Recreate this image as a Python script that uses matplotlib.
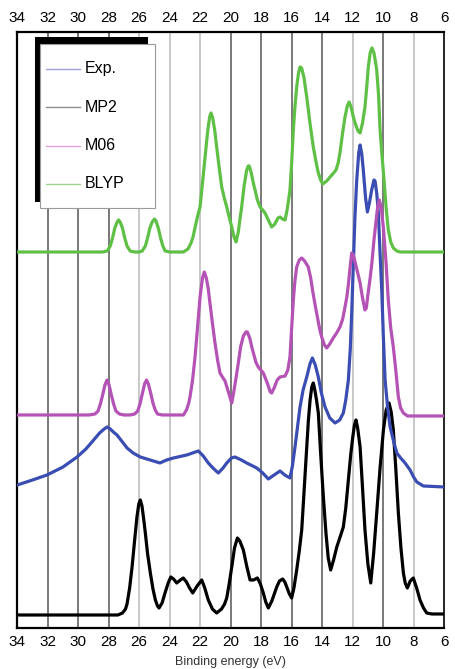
import matplotlib.pyplot as plt
from matplotlib.patches import Rectangle

plt.rcParams['font.family'] = ['Liberation Sans', 'DejaVu Sans']

# binding energy (eV) / intensity (a.u., curves already stacked)
blyp_e = [34.0, 28.4, 28.1, 27.9, 27.75, 27.6, 27.45, 27.35, 27.25, 27.1, 26.95, 26.8, 26.6,
          26.3, 26.0, 25.8, 25.6, 25.45, 25.3, 25.15, 25.0, 24.9, 24.75, 24.6, 24.45, 24.3,
          24.0, 23.1, 22.8, 22.6, 22.47, 22.3, 22.15, 22.01, 21.85, 21.68, 21.5, 21.38, 21.29,
          21.18, 21.05, 20.92, 20.75, 20.59, 20.42, 20.26, 20.1, 19.93, 19.78, 19.65, 19.5,
          19.38, 19.28, 19.12, 18.95, 18.85, 18.78, 18.65, 18.5, 18.4, 18.25, 18.07, 17.9,
          17.75, 17.5, 17.31, 17.1, 16.9, 16.76, 16.6, 16.43, 16.3, 16.2, 16.11, 16.0, 15.89,
          15.78, 15.67, 15.55, 15.45, 15.35, 15.2, 15.01, 14.8, 14.58, 14.4, 14.25, 14.1,
          13.96, 13.7, 13.48, 13.25, 13.09, 12.95, 12.83, 12.65, 12.5, 12.35, 12.23, 12.1,
          11.97, 11.84, 11.65, 11.51, 11.35, 11.19, 11.08, 10.97, 10.85, 10.73, 10.6, 10.5,
          10.42, 10.3, 10.2, 10.07, 9.94, 9.8, 9.66, 9.5, 9.33, 9.1, 8.89, 6.0]
blyp_i = [376, 376, 377, 382, 390, 400, 406, 408, 406, 400, 390, 382, 377,
          376, 376, 377, 382, 390, 400, 406, 409, 407, 400, 390, 382, 377,
          376, 376, 379, 385, 391, 403, 413, 421, 445, 471, 498, 511, 515,
          510, 498, 481, 460, 441, 430, 421, 411, 401, 391, 386, 396,
          410, 421, 442, 458, 462, 462, 455, 444, 438, 428, 421, 418,
          415, 407, 401, 404, 410, 411, 409, 408, 418, 428, 438, 465, 498,
          522, 541, 555, 561, 560, 551, 531, 505, 481, 466, 455, 448,
          444, 447, 451, 455, 458, 465, 475, 496, 511, 522, 526, 521,
          512, 505, 497, 495, 505, 521, 540, 561, 575, 580, 575, 566,
          558, 533, 498, 472, 448, 420, 398, 386, 380, 377, 376, 376]

m06_e = [34.0, 29.3, 28.9, 28.7, 28.55, 28.4, 28.25, 28.11, 27.98, 27.83, 27.68, 27.53, 27.3,
         27.0, 26.6, 26.3, 26.1, 25.95, 25.8, 25.65, 25.52, 25.4, 25.25, 25.1, 24.95, 24.8,
         24.5, 23.1, 22.9, 22.75, 22.67, 22.5, 22.34, 22.15, 22.01, 21.85, 21.73, 21.6, 21.48,
         21.36, 21.2, 21.03, 20.85, 20.7, 20.5, 20.37, 20.15, 19.93, 19.8, 19.65, 19.5, 19.35,
         19.17, 19.0, 18.91, 18.75, 18.6, 18.51, 18.35, 18.19, 17.86, 17.6, 17.4, 17.31, 17.15,
         16.95, 16.76, 16.43, 16.25, 16.11, 16.0, 15.89, 15.78, 15.67, 15.5, 15.34, 15.15,
         14.91, 14.75, 14.62, 14.45, 14.3, 14.15, 14.03, 13.85, 13.7, 13.5, 13.27, 13.05,
         12.83, 12.65, 12.5, 12.38, 12.28, 12.17, 12.06, 11.95, 11.84, 11.68, 11.51, 11.35,
         11.19, 11.1, 11.0, 10.85, 10.73, 10.6, 10.47, 10.35, 10.25, 10.12, 9.98, 9.88, 9.81,
         9.66, 9.5, 9.33, 9.15, 9.0, 8.85, 8.67, 8.4, 6.0]
m06_i = [213, 213, 214, 217, 224, 233, 243, 248, 243, 233, 224, 217, 214,
         213, 213, 214, 217, 224, 234, 244, 248, 244, 235, 225, 218, 214,
         213, 213, 218, 225, 231, 248, 271, 305, 331, 350, 356, 350, 340,
         325, 305, 285, 267, 255, 250, 247, 236, 225, 236, 250, 265, 281,
         292, 296, 296, 290, 280, 275, 266, 261, 255, 245, 236, 235, 240,
         248, 251, 252, 258, 271, 300, 328, 348, 361, 368, 370, 367,
         361, 350, 337, 322, 310, 298, 291, 283, 280, 284, 290, 295,
         301, 309, 321, 331, 343, 360, 375, 373, 366, 356, 345, 330,
         318, 320, 333, 350, 366, 388, 406, 422, 428, 420, 400, 380, 366,
         328, 300, 281, 255, 231, 220, 215, 212, 212]

exp_e = [34.0, 33.0, 32.05, 31.0, 30.08, 29.5, 28.99, 28.6, 28.3, 28.11, 27.9, 27.7, 27.46,
         27.1, 26.8, 26.4, 25.93, 25.29, 24.64, 24.2, 23.76, 22.88, 22.5, 22.12, 21.8, 21.47,
         21.1, 20.81, 20.5, 20.26, 19.95, 19.72, 19.3, 18.95, 18.29, 17.9, 17.53, 17.15, 16.76,
         16.45, 16.11, 15.95, 15.78, 15.6, 15.45, 15.25, 15.01, 14.8, 14.64, 14.45, 14.25,
         14.05, 13.81, 13.5, 13.15, 12.85, 12.61, 12.45, 12.28, 12.15, 12.06, 11.95, 11.85,
         11.73, 11.6, 11.51, 11.4, 11.3, 11.15, 11.03, 10.9, 10.75, 10.6, 10.53, 10.42, 10.31,
         10.2, 10.09, 9.98, 9.87, 9.7, 9.54, 9.3, 9.1, 8.85, 8.56, 8.23, 8.0, 7.79, 7.36, 6.0]
exp_i = [143, 148, 153, 161, 171, 179, 188, 195, 199, 201, 199, 196, 193,
         186, 180, 175, 171, 168, 165, 168, 170, 173, 175, 177, 172, 165,
         159, 155, 160, 165, 170, 171, 168, 165, 160, 155, 149, 153, 157,
         153, 150, 162, 181, 203, 221, 238, 251, 264, 270, 263, 251,
         235, 221, 210, 205, 208, 215, 228, 248, 280, 315, 365, 410,
         448, 475, 483, 474, 458, 430, 416, 425, 438, 448, 447, 435, 415,
         375, 338, 290, 248, 220, 201, 186, 175, 170, 165, 158, 151, 146, 142, 141]

mp2_e = [34.0, 27.4, 27.1, 26.9, 26.8, 26.63, 26.47, 26.3, 26.15, 26.03, 25.93, 25.82, 25.7,
         25.6, 25.45, 25.27, 25.1, 24.94, 24.8, 24.7, 24.5, 24.31, 24.1, 23.93, 23.75, 23.54,
         23.3, 23.11, 22.9, 22.7, 22.49, 22.2, 21.9, 21.7, 21.47, 21.2, 20.92, 20.6, 20.4,
         20.26, 20.1, 19.93, 19.75, 19.56, 19.4, 19.17, 18.95, 18.73, 18.5, 18.25, 18.05,
         17.86, 17.7, 17.53, 17.3, 16.98, 16.8, 16.59, 16.45, 16.32, 16.15, 16.0, 15.85,
         15.67, 15.5, 15.34, 15.18, 15.01, 14.9, 14.79, 14.68, 14.58, 14.48, 14.37, 14.25,
         14.1, 13.92, 13.75, 13.6, 13.44, 13.25, 13.04, 12.8, 12.61, 12.45, 12.28, 12.12,
         11.99, 11.88, 11.78, 11.67, 11.51, 11.35, 11.19, 11.0, 10.81, 10.62, 10.42, 10.2,
         9.98, 9.8, 9.61, 9.47, 9.33, 9.17, 9.0, 8.83, 8.67, 8.55, 8.41, 8.22, 8.02, 7.8,
         7.58, 7.35, 7.14, 6.8, 6.0]
mp2_i = [13, 13, 15, 19, 24, 40, 61, 88, 111, 124, 128, 122, 108,
         95, 74, 55, 39, 28, 22, 20, 25, 35, 45, 51, 49, 45,
         48, 50, 46, 40, 35, 42, 48, 40, 28, 19, 15, 19, 24,
         30, 44, 61, 80, 90, 87, 78, 62, 48, 48, 50, 44,
         35, 26, 20, 27, 41, 47, 49, 46, 41, 34, 30, 40,
         58, 77, 98, 138, 181, 208, 228, 241, 245, 238, 228, 215,
         175, 131, 95, 70, 58, 68, 81, 92, 101, 120, 148, 174,
         191, 203, 208, 200, 181, 140, 98, 64, 45, 75, 115, 160,
         198, 218, 225, 216, 198, 160, 115, 80, 55, 45, 40, 47, 50, 40,
         28, 20, 15, 14, 14]

ticks = list(range(34, 5, -2))
dark_ticks = [32, 30, 28, 20, 18, 16, 14, 10]

labels = ['Exp.', 'MP2', 'M06', 'BLYP']
legend_colors = ['#a0a0dc', '#8c8c8c', '#e2a2da', '#9fd28f']

fig = plt.figure(figsize=(4.55, 6.69), dpi=100)
ax = fig.add_axes([0.038, 0.0613, 0.938, 0.8909])

for t in ticks[1:-1]:
    c = '#6e6e6e' if t in dark_ticks else '#c4c4c4'
    ax.axvline(t, color=c, lw=1.3, zorder=1)

line_kw = dict(lw=2.3, zorder=3, solid_joinstyle='round', solid_capstyle='round')
ax.plot(mp2_e, mp2_i, color='black', **line_kw)
ax.plot(exp_e, exp_i, color='#3a4db3', **line_kw)
ax.plot(m06_e, m06_i, color='#b552b5', **line_kw)
ax.plot(blyp_e, blyp_i, color='#5fc046', **line_kw)

ax.set_xlim(34, 6)
ax.set_ylim(0, 596)
ax.set_yticks([])
ax.set_xticks(ticks)
ax.tick_params(axis='x', top=True, labeltop=True, length=0, labelsize=11, pad=5)
ax.set_xlabel('Binding energy (eV)', fontsize=9, color='#333333', labelpad=5)
for side in ['top', 'bottom', 'left']:
    ax.spines[side].set_linewidth(1.6)
ax.spines['right'].set_linewidth(1.2)

# legend box with an up-left shadow
ax.add_patch(Rectangle((0.0415, 0.7148), 0.2645, 0.2768, transform=ax.transAxes,
                       facecolor='black', edgecolor='none', zorder=5))
ax.add_patch(Rectangle((0.0532, 0.7047), 0.2695, 0.2752, transform=ax.transAxes,
                       facecolor='white', edgecolor='#9a9a9a', lw=0.8, zorder=6))
for k, (lab, col) in enumerate(zip(labels, legend_colors)):
    yy = 0.938 - k * 0.0643
    ax.plot([0.0673, 0.147], [yy, yy], color=col, lw=1.0, transform=ax.transAxes, zorder=7)
    ax.text(0.1587, yy, lab, transform=ax.transAxes, fontsize=11.5, va='center',
            ha='left', zorder=7)

fig.savefig('out.png', dpi=100)
